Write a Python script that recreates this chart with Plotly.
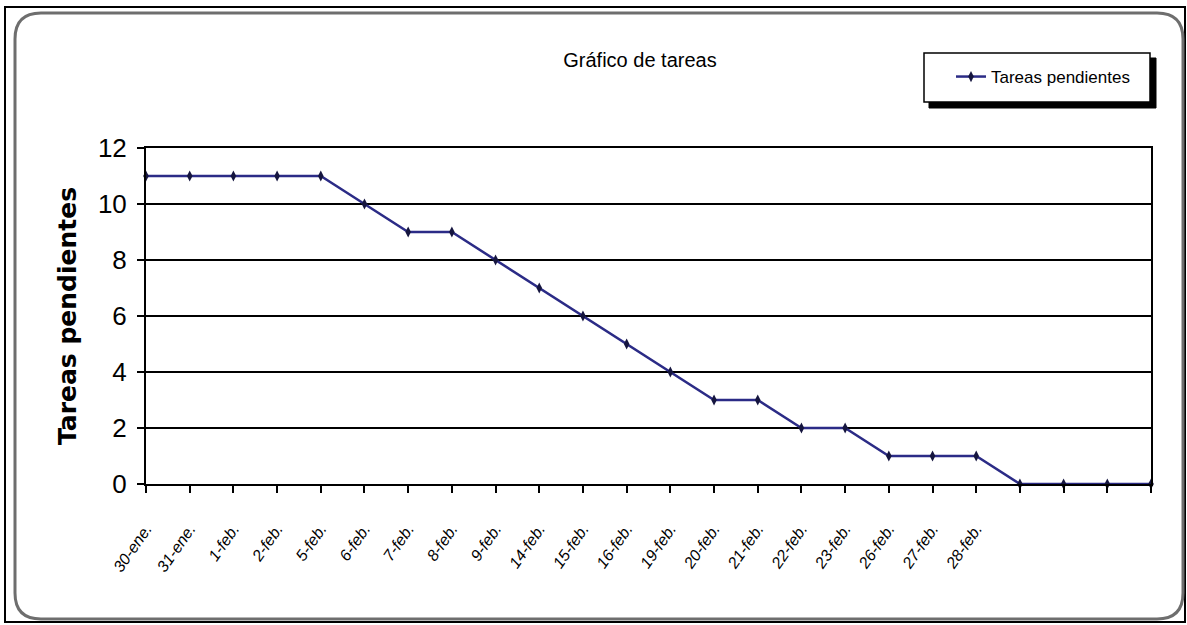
import plotly.graph_objects as go

# ---- data ----
fechas = ["30-ene.", "31-ene.", "1-feb.", "2-feb.", "5-feb.", "6-feb.", "7-feb.",
          "8-feb.", "9-feb.", "14-feb.", "15-feb.", "16-feb.", "19-feb.", "20-feb.",
          "21-feb.", "22-feb.", "23-feb.", "26-feb.", "27-feb.", "28-feb.",
          "", "", "", ""]
tareas_pendientes = [11, 11, 11, 11, 11, 10, 9, 9, 8, 7, 6, 5, 4, 3, 3, 2, 2, 1, 1, 1,
                     0, 0, 0, 0]
y_ticks = [0, 2, 4, 6, 8, 10, 12]

W, H = 1187, 625
L, R, T, B = 146, 36, 148, 141
PW, PH = W - L - R, H - T - B


def xp(px):
    return (px - L) / PW


def yp(py):
    return (H - B - py) / PH


FONT = "Liberation Sans Narrow, Arial Narrow, Liberation Sans, Arial, sans-serif"

x_idx = list(range(len(tareas_pendientes)))

fig = go.Figure()
fig.add_trace(go.Scatter(
    x=x_idx, y=tareas_pendientes, mode="lines+markers",
    name="Tareas pendientes",
    line=dict(color="#2b2b86", width=2.5),
    marker=dict(symbol="diamond-tall", size=8, color="#15153f"),
    cliponaxis=False,
))

shapes = []
# outer black frame
shapes.append(dict(type="rect", xref="paper", yref="paper",
                   x0=xp(5), x1=xp(1185), y0=yp(622), y1=yp(7),
                   line=dict(color="black", width=2), fillcolor="rgba(0,0,0,0)",
                   layer="below"))
# rounded gray chart border
x0, x1, y0, y1 = 15, 1183, 13, 619
r = 26
path = (f"M {xp(x0 + r)},{yp(y0)} L {xp(x1 - r)},{yp(y0)} "
        f"Q {xp(x1)},{yp(y0)} {xp(x1)},{yp(y0 + r)} "
        f"L {xp(x1)},{yp(y1 - r)} Q {xp(x1)},{yp(y1)} {xp(x1 - r)},{yp(y1)} "
        f"L {xp(x0 + r)},{yp(y1)} Q {xp(x0)},{yp(y1)} {xp(x0)},{yp(y1 - r)} "
        f"L {xp(x0)},{yp(y0 + r)} Q {xp(x0)},{yp(y0)} {xp(x0 + r)},{yp(y0)} Z")
shapes.append(dict(type="path", xref="paper", yref="paper", path=path,
                   line=dict(color="#6e6e6e", width=3), fillcolor="rgba(0,0,0,0)",
                   layer="below"))
# legend shadow + box
shapes.append(dict(type="rect", xref="paper", yref="paper",
                   x0=xp(929), x1=xp(1156), y0=yp(108), y1=yp(58),
                   line=dict(color="black", width=1), fillcolor="black"))
shapes.append(dict(type="rect", xref="paper", yref="paper",
                   x0=xp(924), x1=xp(1150), y0=yp(102), y1=yp(53),
                   line=dict(color="black", width=1.5), fillcolor="white"))

fig.update_layout(
    width=W, height=H,
    margin=dict(l=L, r=R, t=T, b=B, pad=0),
    paper_bgcolor="white", plot_bgcolor="white",
    font=dict(family=FONT, color="black"),
    title=dict(text="Gráfico de tareas", x=xp(640), xanchor="center",
               y=1 - 60 / H, yanchor="middle", xref="paper",
               font=dict(family=FONT, size=20, color="black")),
    showlegend=True,
    legend=dict(x=xp(951), y=yp(77), xanchor="left", yanchor="middle",
                bgcolor="rgba(0,0,0,0)", borderwidth=0,
                font=dict(family=FONT, size=17, color="black")),
    shapes=shapes,
    xaxis=dict(
        range=[0, len(tareas_pendientes) - 1],
        tickmode="array", tickvals=x_idx, ticktext=fechas,
        tickangle=-55,
        tickfont=dict(family=FONT, size=16, style="italic", color="black"),
        ticks="outside", ticklen=7, tickcolor="black", tickwidth=1.5,
        ticklabelstandoff=20,
        showline=True, mirror=True, linecolor="black", linewidth=2,
        showgrid=False, zeroline=False,
    ),
    yaxis=dict(
        range=[0, 12],
        tickmode="array", tickvals=y_ticks,
        tickfont=dict(family=FONT, size=26, color="black"),
        ticks="outside", ticklen=7, tickcolor="black", tickwidth=1.5,
        ticklabelstandoff=5,
        showline=True, mirror=True, linecolor="black", linewidth=2,
        showgrid=True, gridcolor="black", gridwidth=2,
        zeroline=False,
        title=dict(text="<b>Tareas pendientes</b>", standoff=14,
                   font=dict(family="DejaVu Sans, Liberation Sans, Arial", size=25,
                             color="black")),
    ),
)

fig.write_html("out.html")
